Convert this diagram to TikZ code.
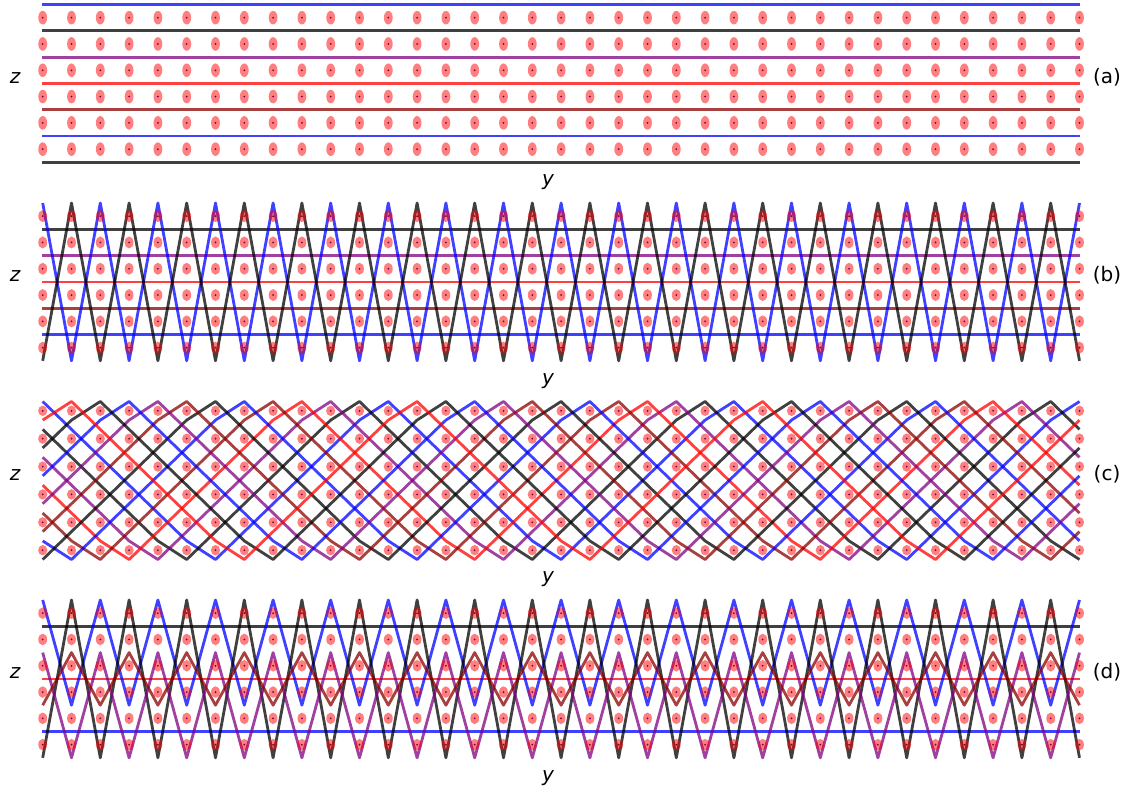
\documentclass[tikz,border=0pt]{standalone}
\usepackage{fontspec}
\setmainfont{DejaVu Sans}
\usepackage{xcolor}
\usepackage{tikz}
\usetikzlibrary{calc}

\definecolor{wireblue}{RGB}{0,0,255}
\definecolor{wireblack}{RGB}{0,0,0}
\definecolor{wirepurple}{RGB}{128,0,128}
\definecolor{wirered}{RGB}{255,0,0}
\definecolor{wirebrown}{RGB}{139,0,0}
\definecolor{ioncore}{RGB}{110,0,90}

\begin{document}
\begin{tikzpicture}[
    x=0.5pt, y=-0.5pt,
    % GLOBAL CFG
    font=\fontsize{10}{12}\selectfont,
    % Styles
    ion/.style={% the smeared ions
        fill=red,
        fill opacity=0.5,
        },
    core/.style={% ion centre
        fill=ioncore,
        },
    wire/.style={% every line
        line width=1.4pt,
        draw opacity=0.75,
        line join=round,
        },
    axlabel/.style={% z and y
        font=\fontsize{10}{12}\selectfont\itshape,
        inner sep=0pt,
        },
    tag/.style={% (a) ... (d)
        inner sep=0pt,
        },
    declare function={
        colx(\j)=42.7+28.8*\j;
        bounce(\k)=ifthenelse(mod(\k,12)<6, mod(\k,12), 11.667-mod(\k,12));
        },
    ]

\useasboundingbox (0,0) rectangle (1130,793);

% (a): seven flat lines
\foreach \k/\col in {0/wireblue, 1/wireblack, 2/wirepurple, 3/wirered, 4/wirebrown, 5/wireblue, 6/wireblack}
    \draw[wire, \col] (42, {4.5+26.3*\k}) -- (1079.5, {4.5+26.3*\k});

% (b): outer lines zigzag
\foreach \k/\col in {1/wireblack, 2/wirepurple, 3/wirered, 4/wirebrown, 5/wireblue}
    \draw[wire, \col] (42, {203+26.3*\k}) -- (1079.5, {203+26.3*\k});
\foreach \a/\b/\col in {0/6/wireblue, 6/0/wireblack}
    \draw[wire, \col] plot[samples at={0,...,36}] ({colx(\x)}, {203+26.3*(\a+(\b-\a)*mod(\x,2))});

% (c): twelve bouncing lines
\foreach \p/\col in {0/wireblue, 1/wireblack, 2/wirepurple, 3/wirered, 4/wirebrown, 5/wireblue,
                     6/wireblack, 7/wirebrown, 8/wirepurple, 9/wireblue, 10/wireblack, 11/wirered}
    \draw[wire, \col] plot[samples at={0,...,36}] ({colx(\x)}, {401.5+27.88*bounce(\p+\x)});

% (d): odd lines zigzag
\foreach \k/\col in {1/wireblack, 3/wirered, 5/wireblue}
    \draw[wire, \col] (42, {600+26.3*\k}) -- (1079.5, {600+26.3*\k});
\foreach \a/\b/\col in {0/4/wireblue, 6/0/wireblack, 2/6/wirepurple, 4/2/wirebrown}
    \draw[wire, \col] plot[samples at={0,...,36}] ({colx(\x)}, {600+26.3*(\a+(\b-\a)*mod(\x,2))});

% Draw the ions of all four panels on top
\foreach \ty/\gap/\off/\rx/\ry in {4.5/26.3/13.15/2.2pt/3.4pt, 203/26.3/13.15/2.2pt/3pt,
                                   401.5/27.88/9.3/2.3pt/2.6pt, 600/26.3/13.15/2.2pt/2.9pt}
    \foreach \r in {0,...,5}
        \foreach \j in {0,...,36}{
            \fill[ion] ({colx(\j)}, {\ty+\off+\gap*\r}) ellipse [x radius=\rx, y radius=\ry];
            \fill[core] ({colx(\j)}, {\ty+\off+\gap*\r}) circle (0.5pt);
        }

% Labels
\foreach \t/\ty in {a/4.5, b/203, c/401.5, d/600}{
    \node[axlabel] (z\t) at (15, {\ty+73.5}) {z};
    \node[axlabel] (y\t) at (548, {\ty+178}) {y};
    \node[tag] (tag\t) at (1107, {\ty+72.5}) {(\t)};
}

\end{tikzpicture}
\end{document}
